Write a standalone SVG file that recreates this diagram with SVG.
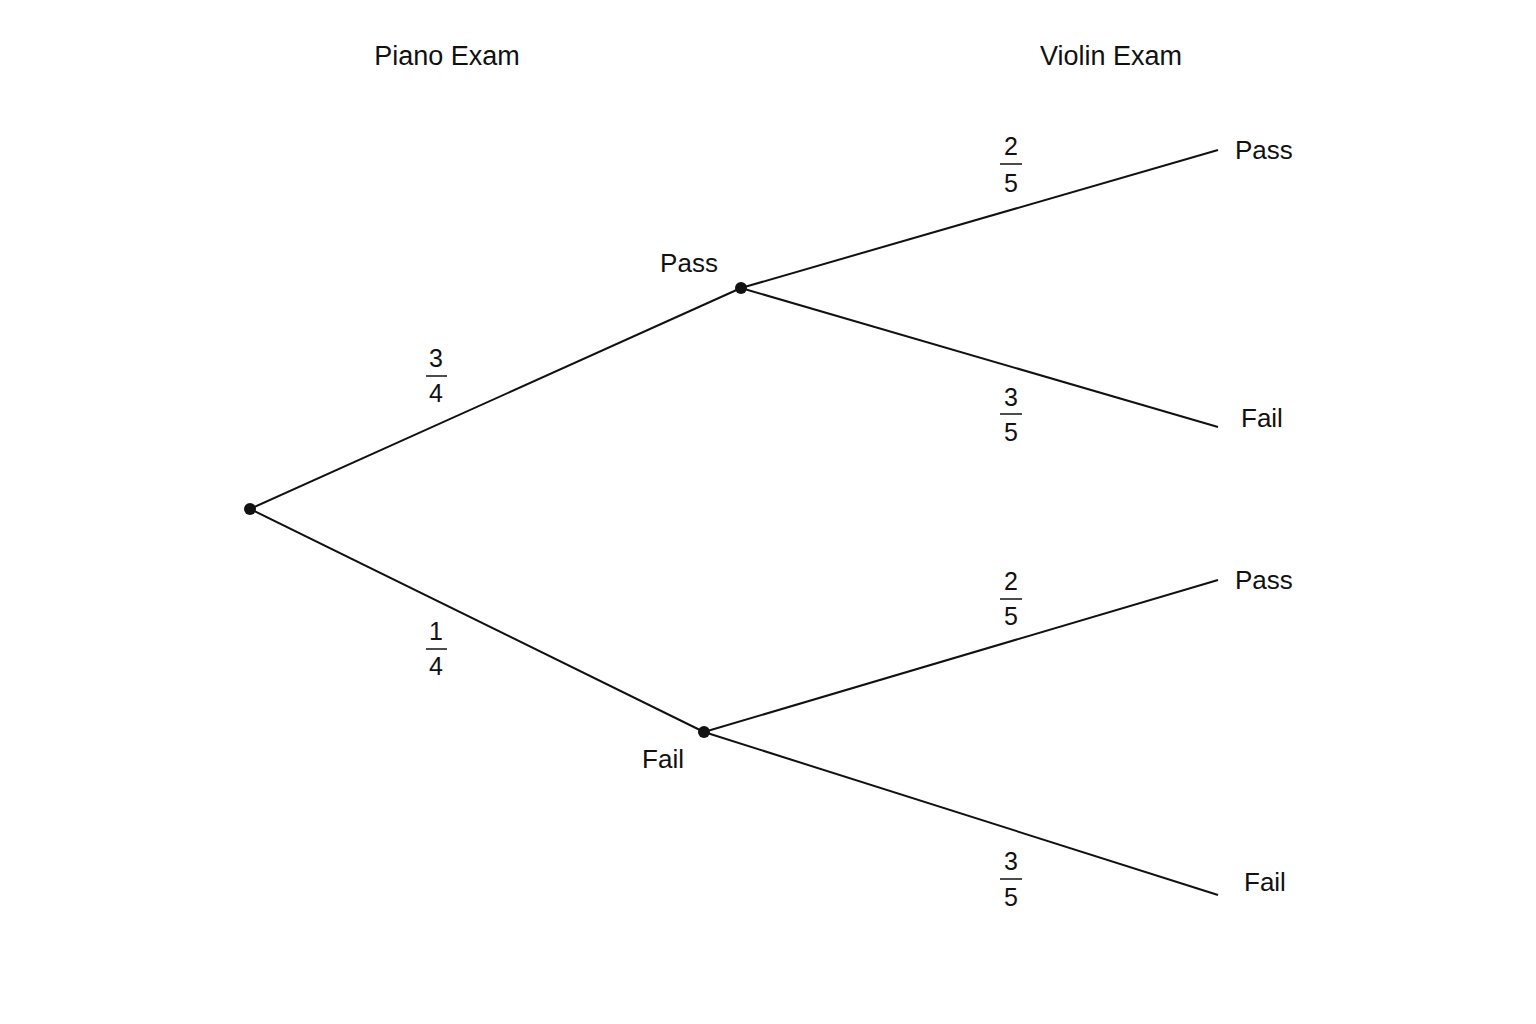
<svg xmlns="http://www.w3.org/2000/svg" width="1536" height="1024" viewBox="0 0 1536 1024">
<style>
text{font-family:"Liberation Sans",Arial,sans-serif;fill:#111;font-size:26px}
.h{font-size:27px;text-anchor:middle}
.f{font-size:25px;text-anchor:middle}
.c{text-anchor:middle}
.l{stroke:#111;stroke-width:2;fill:none}
.b{stroke:#111;stroke-width:1.5}
</style>
<rect width="1536" height="1024" fill="#fff"/>
<g id="headers"><text class="h" x="447" y="65">Piano Exam</text><text class="h" x="1111" y="65">Violin Exam</text></g>
<g id="connectors">
<path class="l" d="M250 509 L741 288"/>
<path class="l" d="M250 509 L704 732"/>
<path class="l" d="M741 288 L1218 150"/>
<path class="l" d="M741 288 L1218 427"/>
<path class="l" d="M704 732 L1218 580"/>
<path class="l" d="M704 732 L1218 895"/>
</g>
<g id="root"><circle cx="250" cy="509" r="6" fill="#111"/></g>
<g id="pianoPass"><circle cx="741" cy="288" r="6" fill="#111"/><text class="c" x="689" y="272">Pass</text></g>
<g id="pianoFail"><circle cx="704" cy="732" r="6" fill="#111"/><text class="c" x="663" y="768">Fail</text></g>
<g id="pp"><text x="1235" y="159">Pass</text></g>
<g id="pf"><text x="1241" y="427">Fail</text></g>
<g id="fp"><text x="1235" y="589">Pass</text></g>
<g id="ff"><text x="1244" y="891">Fail</text></g>
<g id="fractions">
<text class="f" x="436" y="367">3</text><line class="b" x1="426" y1="376" x2="447" y2="376"/><text class="f" x="436" y="402">4</text>
<text class="f" x="436" y="640">1</text><line class="b" x1="426" y1="649" x2="447" y2="649"/><text class="f" x="436" y="675">4</text>
<text class="f" x="1011" y="155">2</text><line class="b" x1="1000" y1="164" x2="1022" y2="164"/><text class="f" x="1011" y="192">5</text>
<text class="f" x="1011" y="406">3</text><line class="b" x1="1000" y1="414" x2="1022" y2="414"/><text class="f" x="1011" y="441">5</text>
<text class="f" x="1011" y="590">2</text><line class="b" x1="1000" y1="599" x2="1022" y2="599"/><text class="f" x="1011" y="625">5</text>
<text class="f" x="1011" y="870">3</text><line class="b" x1="1000" y1="879" x2="1022" y2="879"/><text class="f" x="1011" y="906">5</text>
</g>
</svg>
